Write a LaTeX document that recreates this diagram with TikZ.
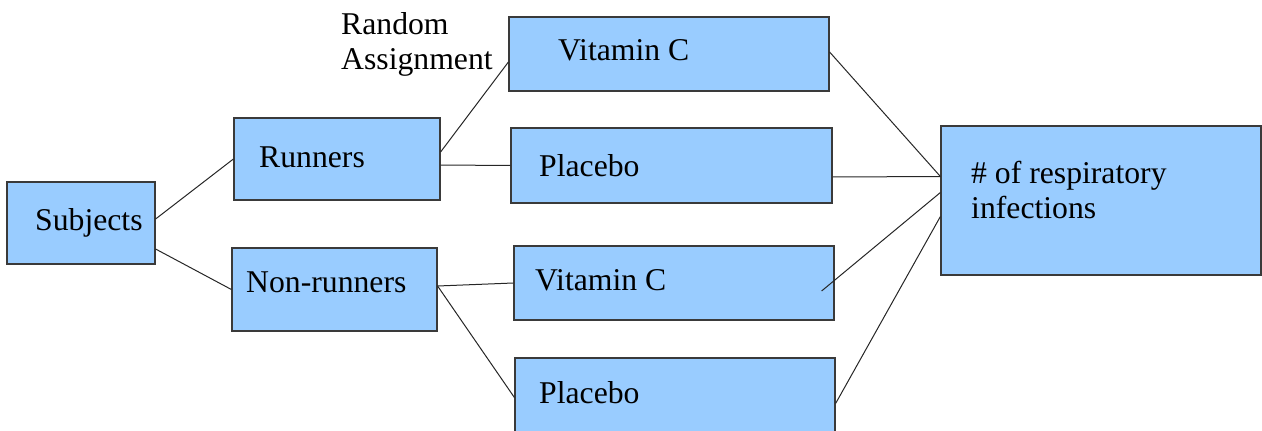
\documentclass[tikz,border=0pt]{standalone}
\usepackage{fontspec}
\setmainfont{Liberation Serif}
\usepackage{xcolor}
\usetikzlibrary{positioning}
\definecolor{boxblue}{HTML}{99CCFF}
\definecolor{boxline}{HTML}{3A3A3A}
\tikzset{
  box/.style={draw=boxline, fill=boxblue, line width=1.2pt, inner sep=0pt},
  lbl/.style={inner sep=0pt, anchor=base west, align=left},
  wire/.style={draw=black!85, line width=1pt},
}

\begin{document}
\begin{tikzpicture}[x=1pt, y=-1pt, every node/.style={font=\fontsize{31.7}{35}\selectfont}]
\useasboundingbox (0,0) rectangle (1262,431);
% boxes and their labels (base = last line)
\foreach \nm/\xa/\ya/\xb/\yb/\tx/\ty/\txt in {%
  subj/7/182/155/264/35/230/{Subjects},%
  run/234/118/440/200/259/167/{Runners},%
  nonrun/232/248/437/331/246/292/{Non-runners},%
  vcA/509/17/829/91/558/60/{Vitamin C},%
  plA/511/128/832/203/539/176/{Placebo},%
  vcB/514/246/834/320/535/290/{Vitamin C},%
  plB/515/358/835/433/539/403/{Placebo},%
  outc/941/126/1261/275/971/218/{\# of respiratory\\infections}%
} {
  \node[box, minimum width={(\xb-\xa)*1pt}, minimum height={(\yb-\ya)*1pt}] (\nm) at ({(\xa+\xb)/2},{(\ya+\yb)/2}) {};
  \node[lbl] (\nm-t) at (\tx,\ty) {\txt};
}
\node[lbl] (assign) at (341,69) {Random\\Assignment};
% connectors
\draw[wire] ([yshift=4]subj.east) -- (run.west);
\draw[wire] ([yshift=-26]subj.east) -- (nonrun.west);
\draw[wire] ([yshift=7]run.east) -- ([yshift=-8]vcA.west);
\draw[wire] ([yshift=-6]run.east) -- (plA.west);
\draw[wire] ([yshift=3.5]nonrun.east) -- (vcB.west);
\draw[wire] ([yshift=3.5]nonrun.east) -- ([yshift=-2]plB.west);
\draw[wire] ([yshift=2]vcA.east) -- ([yshift=24]outc.west);
\draw[wire] ([yshift=-11.5]plA.east) -- ([yshift=24]outc.west);
\coordinate (vcB-in) at ([xshift=-13,yshift=-8]vcB.east);
\draw[wire] (vcB-in) -- ([yshift=8]outc.west);
\draw[wire] ([yshift=-8]plB.east) -- ([yshift=-16]outc.west);
\end{tikzpicture}
\end{document}
